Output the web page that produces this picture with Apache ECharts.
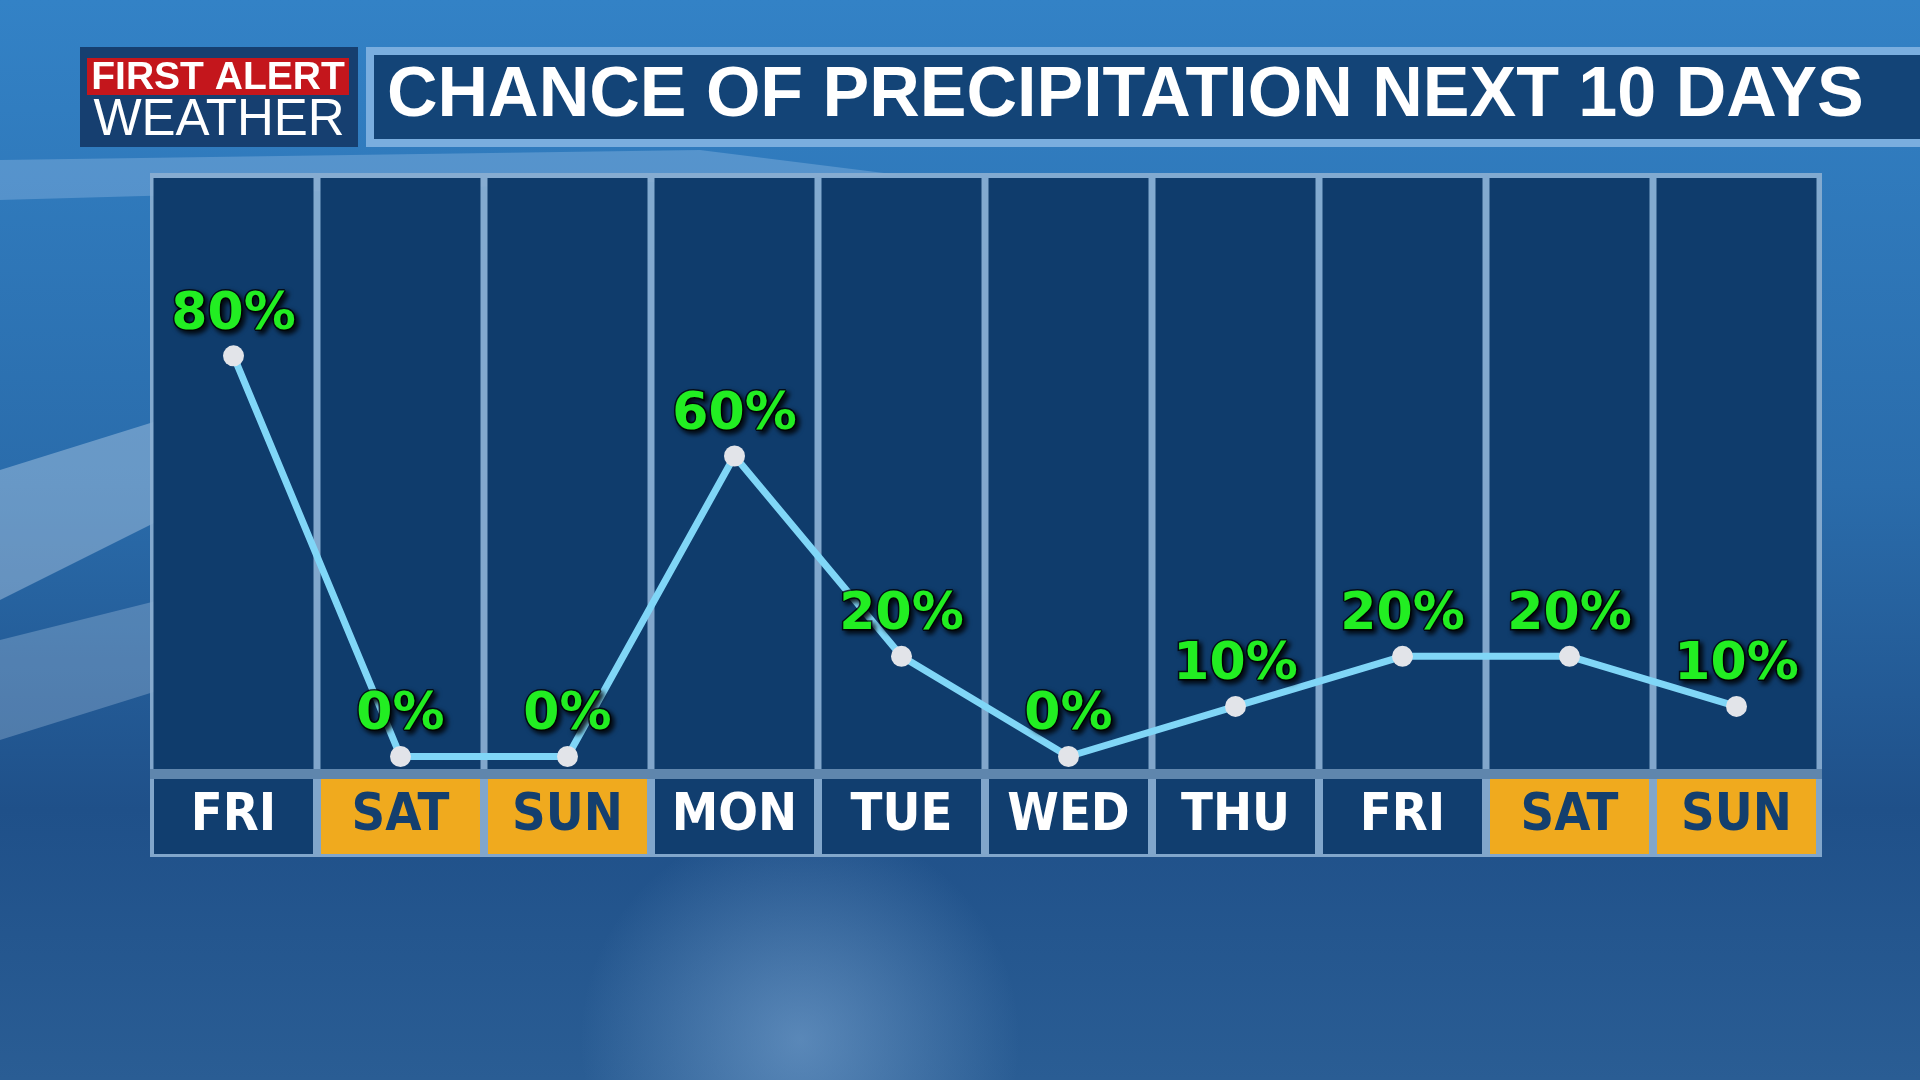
<!DOCTYPE html>
<html>
<head>
<meta charset="utf-8">
<title>Chance of Precipitation Next 10 Days</title>
<script src="https://cdn.jsdelivr.net/npm/echarts@6/dist/echarts.min.js"></script>
<style>
  html, body { margin: 0; padding: 0; background: #2a6aa8; }
  #chart { width: 1920px; height: 1080px; }
</style>
</head>
<body>
<div id="chart"></div>
<script>
  var days = ['FRI', 'SAT', 'SUN', 'MON', 'TUE', 'WED', 'THU', 'FRI', 'SAT', 'SUN']
  var weekend = [false, true, true, false, false, false, false, false, true, true]
  var precip = [80, 0, 0, 60, 20, 0, 10, 20, 20, 10]
  var titleText = 'CHANCE OF PRECIPITATION NEXT 10 DAYS'

  var narrow = "'Liberation Sans Narrow', 'DejaVu Sans Condensed', 'Liberation Sans', sans-serif"
  var sans = "'Liberation Sans', Arial, sans-serif"
  var wide = "'DejaVu Sans', 'Liberation Sans', sans-serif"

  var chart = echarts.init(document.getElementById('chart'))

  var dayLabel = {
    width: 159,
    height: 75,
    lineHeight: 75,
    align: 'center',
    fontFamily: narrow,
    fontWeight: 'bold',
    fontSize: 52
  }

  chart.setOption({
    animation: false,
    graphic: [
      // backdrop
      {
        type: 'rect', z: -100, silent: true,
        shape: { x: 0, y: 0, width: 1920, height: 1080 },
        style: {
          fill: new echarts.graphic.LinearGradient(0, 0, 0, 1, [
            { offset: 0, color: '#3382c6' },
            { offset: 0.45, color: '#2a6cab' },
            { offset: 0.75, color: '#1f5089' },
            { offset: 1, color: '#2a5d94' }
          ])
        }
      },
      {
        type: 'polygon', z: -99, silent: true,
        shape: { points: [[0, 470], [160, 420], [160, 520], [0, 600]] },
        style: { fill: 'rgba(220,235,250,0.35)' }
      },
      {
        type: 'polygon', z: -99, silent: true,
        shape: { points: [[0, 640], [160, 600], [160, 690], [0, 740]] },
        style: { fill: 'rgba(220,235,250,0.25)' }
      },
      {
        type: 'polygon', z: -99, silent: true,
        shape: { points: [[0, 160], [700, 150], [900, 175], [0, 200]] },
        style: { fill: 'rgba(200,225,250,0.25)' }
      },
      {
        type: 'circle', z: -99, silent: true,
        shape: { cx: 800, cy: 1040, r: 220 },
        style: {
          fill: new echarts.graphic.RadialGradient(0.5, 0.5, 0.5, [
            { offset: 0, color: 'rgba(150,190,230,0.45)' },
            { offset: 1, color: 'rgba(150,190,230,0)' }
          ])
        }
      },
      // panel frame and strip under the columns
      {
        type: 'rect', z: -50, silent: true,
        shape: { x: 150, y: 173, width: 1672, height: 684 },
        style: { fill: 'rgba(140,175,210,0.9)' }
      },
      {
        type: 'rect', z: -49, silent: true,
        shape: { x: 150, y: 769, width: 1672, height: 10 },
        style: { fill: '#5f86ad' }
      },
      // logo
      {
        type: 'rect', z: 10, silent: true,
        shape: { x: 80, y: 47, width: 278, height: 100 },
        style: { fill: '#163f70' }
      },
      {
        type: 'rect', z: 11, silent: true,
        shape: { x: 87, y: 58, width: 262, height: 37 },
        style: { fill: '#c4161c' }
      },
      {
        type: 'text', z: 12, silent: true,
        x: 218, y: 78,
        style: {
          text: 'FIRST ALERT', fill: '#ffffff', align: 'center', verticalAlign: 'middle',
          font: 'bold 39px ' + sans
        }
      },
      {
        type: 'text', z: 12, silent: true,
        x: 219, y: 121,
        style: {
          text: 'WEATHER', fill: '#ffffff', align: 'center', verticalAlign: 'middle',
          font: '51px ' + sans
        }
      },
      // title bar
      {
        type: 'rect', z: 10, silent: true,
        shape: { x: 366, y: 47, width: 1600, height: 100 },
        style: { fill: '#7aaedf' }
      },
      {
        type: 'rect', z: 11, silent: true,
        shape: { x: 374, y: 55, width: 1600, height: 84 },
        style: { fill: '#134477' }
      },
      {
        type: 'text', z: 12, silent: true,
        x: 387, y: 97,
        style: {
          text: titleText, fill: '#ffffff', align: 'left', verticalAlign: 'middle',
          font: 'bold 70px ' + sans
        }
      }
    ],
    grid: {
      left: 150,
      right: 100,
      top: 178,
      bottom: 311
    },
    xAxis: {
      type: 'category',
      data: days,
      axisLine: { show: false },
      axisTick: { show: false },
      axisLabel: {
        margin: 10,
        interval: 0,
        formatter: function (value, idx) {
          return (weekend[idx] ? '{we|' : '{wd|') + value + '}'
        },
        rich: {
          wd: Object.assign({ backgroundColor: '#113e6f', color: '#ffffff' }, dayLabel),
          we: Object.assign({ backgroundColor: '#f0aa1e', color: '#143f6e' }, dayLabel)
        }
      }
    },
    yAxis: {
      type: 'value',
      min: -2.5,
      max: 115.5,
      show: false,
      splitLine: { show: false }
    },
    series: [
      {
        // dark columns behind the line
        type: 'bar',
        data: precip,
        barWidth: 160,
        silent: true,
        itemStyle: { color: 'rgba(0,0,0,0)' },
        showBackground: true,
        backgroundStyle: { color: '#0f3c6c' },
        z: 1
      },
      {
        type: 'line',
        data: precip,
        z: 5,
        symbol: 'circle',
        symbolSize: 21,
        lineStyle: { color: '#80d6f7', width: 7 },
        itemStyle: { color: '#e2e4e9' },
        label: {
          show: true,
          position: 'top',
          distance: 4,
          formatter: '{c}%',
          color: '#22ee22',
          fontFamily: wide,
          fontWeight: 'bold',
          fontSize: 52,
          textBorderColor: 'rgba(0,0,0,0.75)',
          textBorderWidth: 3,
          textShadowColor: 'rgba(0,0,0,0.95)',
          textShadowBlur: 5,
          textShadowOffsetX: 3,
          textShadowOffsetY: 3
        }
      }
    ]
  })
</script>
</body>
</html>
